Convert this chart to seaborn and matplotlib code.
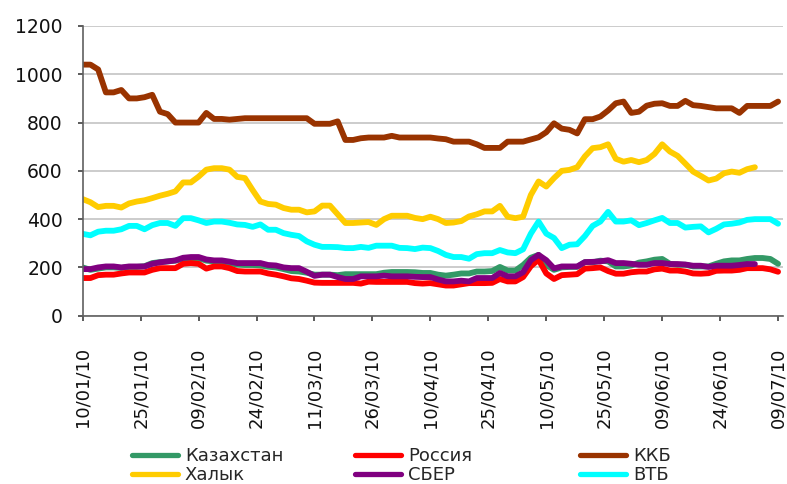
import matplotlib
matplotlib.use("Agg")
import matplotlib.pyplot as plt
from matplotlib.lines import Line2D
import numpy as np
import pandas as pd
import seaborn as sns

# values sampled every 2 days, 10/01/10 .. 09/07/10
DATES = pd.date_range("2010-01-10", periods=91, freq="2D")

TICK_LABELS = ["10/01/10", "25/01/10", "09/02/10", "24/02/10", "11/03/10",
               "26/03/10", "10/04/10", "25/04/10", "10/05/10", "25/05/10",
               "09/06/10", "24/06/10", "09/07/10"]
Y_TICKS = [0, 200, 400, 600, 800, 1000, 1200]

NA = np.nan

kazakhstan = [
    200, 190, 195, 200, 200, 198, 202, 202, 205, 218,
    222, 225, 228, 235, 238, 238, 228, 225, 225, 218,
    212, 210, 210, 208, 203, 200, 193, 185, 183, 178,
    170, 170, 170, 168, 172, 172, 172, 172, 172, 178,
    181, 181, 181, 180, 177, 177, 170, 166, 170, 175,
    175, 183, 183, 185, 202, 187, 187, 210, 240, 252,
    210, 190, 200, 202, 202, 222, 221, 228, 225, 204,
    204, 208, 220, 225, 232, 235, 215, 211, 211, 204,
    204, 204, 215, 225, 229, 229, 235, 239, 239, 235,
    215]

russia = [
    156, 156, 168, 170, 170, 175, 179, 179, 179, 190,
    197, 197, 197, 215, 218, 215, 195, 204, 204, 197,
    185, 183, 183, 183, 175, 170, 163, 155, 152, 145,
    137, 136, 136, 136, 136, 136, 133, 141, 140, 140,
    140, 140, 140, 135, 133, 135, 130, 125, 125, 130,
    135, 135, 135, 136, 152, 142, 142, 160, 205, 232,
    175, 152, 168, 170, 172, 195, 197, 200, 185, 174,
    174, 180, 183, 183, 192, 195, 187, 187, 183, 175,
    174, 176, 186, 187, 187, 190, 197, 197, 197, 192,
    182]

kkb = [
    1040, 1040, 1020, 925, 925, 935, 900, 900, 905, 915,
    845, 835, 800, 800, 800, 800, 840, 815, 815, 812,
    815, 818, 818, 818, 818, 818, 818, 818, 818, 818,
    795, 795, 795, 805, 728, 728, 735, 738, 738, 738,
    745, 738, 738, 738, 738, 738, 734, 731, 721, 721,
    721, 710, 695, 695, 695, 721, 721, 721, 730, 739,
    760, 797, 775, 770, 755, 814, 814, 825, 850, 880,
    887, 840, 845, 870, 878, 880, 869, 869, 890, 872,
    869, 864, 859, 859, 859, 840, 869, 869, 869, 869,
    887]

halyk = [
    483, 470, 450, 455, 455, 448, 465, 473, 478, 487,
    497, 505, 515, 552, 552, 576, 605, 611, 611, 605,
    575, 570, 520, 473, 463, 460, 446, 439, 439, 428,
    432, 456, 456, 420, 384, 384, 386, 388, 376, 400,
    414, 414, 414, 405, 400, 410, 400, 384, 386, 392,
    411, 420, 432, 432, 455, 410, 404, 410, 500, 556,
    535, 570, 600, 604, 615, 660, 694, 698, 710, 650,
    638, 645, 636, 645, 670, 710, 680, 662, 630, 597,
    579, 560, 568, 590, 597, 592, 607, 615, NA, NA,
    NA]

sber = [
    193, 193, 200, 204, 204, 200, 204, 204, 204, 215,
    221, 225, 229, 240, 243, 243, 233, 229, 229, 224,
    218, 218, 218, 218, 210, 208, 200, 197, 197, 182,
    165, 170, 170, 160, 152, 152, 163, 163, 163, 166,
    163, 163, 163, 161, 160, 160, 150, 142, 142, 145,
    142, 156, 156, 156, 177, 163, 163, 180, 230, 252,
    230, 196, 204, 204, 204, 222, 223, 225, 230, 218,
    218, 215, 211, 211, 218, 218, 214, 214, 212, 207,
    207, 202, 207, 207, 207, 210, 214, 214, NA, NA,
    NA]

vtb = [
    339, 333, 348, 352, 352, 358, 372, 372, 358, 375,
    384, 384, 372, 404, 404, 395, 384, 390, 390, 385,
    378, 376, 368, 378, 356, 356, 342, 335, 330, 308,
    294, 285, 285, 284, 280, 280, 285, 281, 290, 290,
    290, 281, 280, 276, 282, 280, 268, 252, 243, 243,
    236, 255, 259, 259, 272, 262, 259, 275, 340, 390,
    340, 322, 280, 294, 296, 330, 372, 390, 430, 390,
    390, 395, 375, 384, 395, 405, 384, 384, 365, 368,
    370, 345, 360, 378, 381, 386, 397, 400, 400, 400,
    381]

SERIES = ["Казахстан", "Россия", "ККБ", "Халык", "СБЕР", "ВТБ"]
COLORS = {
    "Казахстан": "#339966",
    "Россия": "#ff0000",
    "ККБ": "#993300",
    "Халык": "#ffcc00",
    "СБЕР": "#800080",
    "ВТБ": "#00ffff",
}

sns.set_theme(style="white")
plt.rcParams["font.family"] = ["DejaVu Sans"]
plt.rcParams["xtick.major.pad"] = 19
plt.rcParams["ytick.major.pad"] = 10.5
plt.rcParams["xtick.major.size"] = 3.8
plt.rcParams["ytick.major.size"] = 3.8

wide = pd.DataFrame(
    {"date": DATES, "Казахстан": kazakhstan, "Россия": russia, "ККБ": kkb,
     "Халык": halyk, "СБЕР": sber, "ВТБ": vtb}
)
long = wide.melt(id_vars="date", var_name="bank", value_name="value").dropna()

fig = plt.figure(figsize=(7.87, 4.84), dpi=100)
ax = fig.add_axes([82.7 / 787, 1 - 315.7 / 484, 700 / 787, (315.7 - 26) / 484])

sns.lineplot(
    data=long, x="date", y="value", hue="bank", hue_order=SERIES,
    palette=COLORS, linewidth=4.2, estimator=None, sort=False,
    legend=False, ax=ax, solid_joinstyle="round", solid_capstyle="round",
)

tick_dates = pd.to_datetime(TICK_LABELS, format="%d/%m/%y")
ax.set_xticks(tick_dates)
ax.set_xticklabels(TICK_LABELS)
ax.set_xlim(DATES[0], DATES[0] + pd.Timedelta(days=181.2))
ax.set_ylim(0, 1200)
ax.set_yticks(Y_TICKS)
ax.set_xlabel("")
ax.set_ylabel("")

ax.yaxis.grid(True, color="#c4c4c4", linewidth=1.2)
ax.xaxis.grid(False)
ax.set_axisbelow(True)
for side in ("top", "right"):
    ax.spines[side].set_visible(False)
for side in ("left", "bottom"):
    ax.spines[side].set_color("#606060")
    ax.spines[side].set_linewidth(1.2)

ax.tick_params(axis="y", left=True, length=3.8, width=1.2, color="#404040",
               pad=10.5, labelsize=13.5, labelcolor="#111111")
ax.tick_params(axis="x", bottom=True, length=3.8, width=1.2, color="#404040",
               pad=19, labelsize=13, labelcolor="#111111", labelrotation=90)

# three legend columns, two rows each
columns = [("Казахстан", "Халык"), ("Россия", "СБЕР"), ("ККБ", "ВТБ")]
col_x = [131.7, 355, 580]
for names, x0 in zip(columns, col_x):
    handles = [Line2D([], [], color=COLORS[n], linewidth=3.8,
                      solid_capstyle="round") for n in names]
    fig.legend(
        handles, list(names), loc="upper left",
        bbox_to_anchor=(x0 / 787, 1 - 447 / 484), frameon=False,
        fontsize=13, handlelength=2.55, handletextpad=0.4,
        labelspacing=0.05, borderpad=0, borderaxespad=0,
    )

fig.savefig("out.png", dpi=100)
